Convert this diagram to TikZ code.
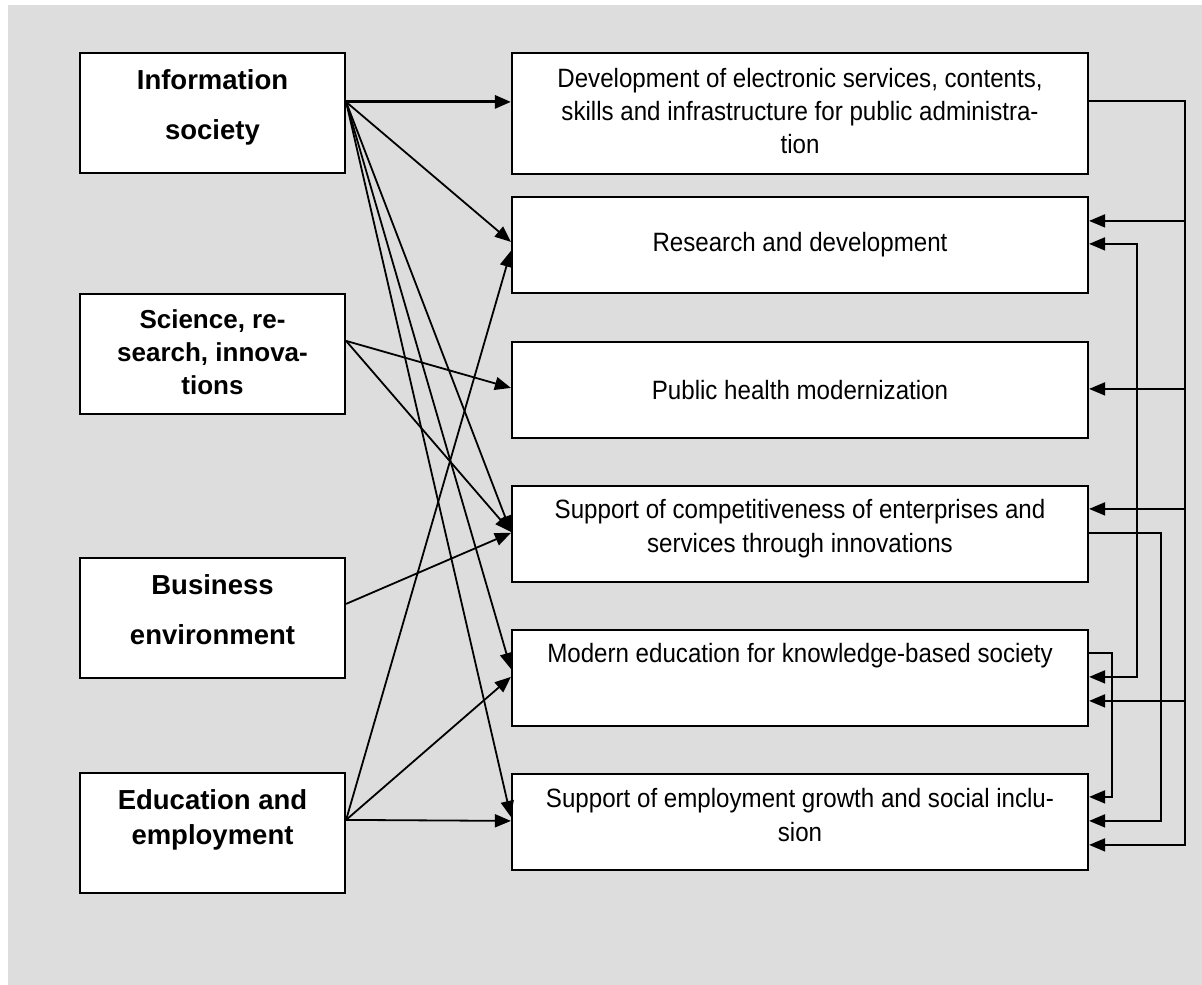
\documentclass[tikz,border=0pt]{standalone}
\usepackage{fontspec}
\setmainfont{Liberation Sans}
\newfontfamily\narrowfont[FakeStretch=0.91]{Liberation Sans}
\usetikzlibrary{arrows.meta}
\definecolor{bggray}{RGB}{221,221,221}
\tikzset{
  lbox/.style={draw=black, line width=2.2pt, fill=white, minimum width=265pt, minimum height=120pt, inner sep=0pt},
  rbox/.style={draw=black, line width=2.2pt, fill=white, minimum width=576pt, minimum height=96pt, inner sep=0pt},
  ltext/.style={align=center, inner sep=0pt, font=\bfseries\fontsize{27.5}{50}\selectfont},
  rtext/.style={align=center, inner sep=0pt, font=\narrowfont\fontsize{26.5}{33}\selectfont},
  conn/.style={line width=1.8pt, -{Triangle[length=16pt,width=13pt]}},
  both/.style={line width=1.8pt, {Triangle[length=16pt,width=13pt]}-{Triangle[length=16pt,width=13pt]}}
}
\begin{document}
\begin{tikzpicture}[x=1pt,y=-1pt]
\useasboundingbox (0,0) rectangle (1202,985);
\fill[bggray] (8,5) rectangle (1202,985);

% left boxes
\node[lbox] (is) at (212.5,113) {};
\node[ltext] (ist) at (212.5,107) {Information\\society};
\node[lbox] (sr) at (212.5,354) {};
\node[ltext, font=\bfseries\fontsize{26}{33}\selectfont] (srt) at (212.5,352) {Science, re-\\search, innova-\\tions};
\node[lbox] (be) at (212.5,618) {};
\node[ltext] (bet) at (212.5,610) {Business\\environment};
\node[lbox] (ee) at (212.5,833) {};
\node[ltext, font=\bfseries\fontsize{27.5}{35}\selectfont] (eet) at (212.5,820) {Education and\\employment};

% right boxes
\node[rbox, minimum height=121pt] (b1) at (800,113.5) {};
\node[rtext] (b1t) at (800,111) {Development of electronic services, contents,\\skills and infrastructure for public administra-\\tion};
\node[rbox] (b2) at (800,245) {};
\node[rtext] (b2t) at (800,245) {Research and development};
\node[rbox] (b3) at (800,390) {};
\node[rtext] (b3t) at (800,390) {Public health modernization};
\node[rbox] (b4) at (800,534) {};
\node[rtext, font=\narrowfont\fontsize{26.5}{34}\selectfont] (b4t) at (800,529) {Support of competitiveness of enterprises and\\services through innovations};
\node[rbox] (b5) at (800,678) {};
\node[rtext] (b5t) at (800,656) {Modern education for knowledge-based society};
\node[rbox] (b6) at (800,822) {};
\node[rtext, font=\narrowfont\fontsize{26.5}{34}\selectfont] (b6t) at (800,815) {Support of employment growth and social inclu-\\sion};

% left-side connectors
\draw[conn, line width=3pt] ([yshift=-50pt]is.north east) -- ([yshift=-50pt]b1.north west);
\draw[conn] ([yshift=-50pt]is.north east) -- ([yshift=-46pt]b2.north west);
\draw[conn] ([yshift=-50pt]is.north east) -- ([yshift=-47pt]b4.north west);
\draw[conn] ([yshift=-50pt]is.north east) -- ([yshift=-40pt]b5.north west);
\draw[conn] ([yshift=-50pt]is.north east) -- ([yshift=-44pt]b6.north west);
\draw[conn] ([yshift=-48pt]sr.north east) -- ([yshift=-47pt]b3.north west);
\draw[conn] ([yshift=-48pt]sr.north east) -- ([yshift=-47pt]b4.north west);
\draw[conn] ([yshift=-47pt]be.north east) -- ([yshift=-48pt]b4.north west);
\draw[conn] ([yshift=-48pt]ee.north east) -- ([yshift=-55pt]b2.north west);
\draw[conn] ([yshift=-48pt]ee.north east) -- ([yshift=-48pt]b5.north west);
\draw[conn] ([yshift=-48pt]ee.north east) -- ([yshift=-48pt]b6.north west);

% right-side ports
\coordinate (b1o) at ([yshift=-49pt]b1.north east);
\coordinate (b2a) at ([yshift=-25pt]b2.north east);
\coordinate (b2b) at ([yshift=-48pt]b2.north east);
\coordinate (b3a) at ([yshift=-48pt]b3.north east);
\coordinate (b4a) at ([yshift=-24pt]b4.north east);
\coordinate (b4o) at ([yshift=-48pt]b4.north east);
\coordinate (b5o) at ([yshift=-24pt]b5.north east);
\coordinate (b5b) at ([yshift=-48pt]b5.north east);
\coordinate (b5a) at ([yshift=-72pt]b5.north east);
\coordinate (b6c) at ([yshift=-24pt]b6.north east);
\coordinate (b6b) at ([yshift=-48pt]b6.north east);
\coordinate (b6a) at ([yshift=-72pt]b6.north east);
\coordinate (busA) at (1185,0);
\coordinate (busB) at (1137,0);
\coordinate (busC) at (1161,0);
\coordinate (busD) at (1112,0);

% outer bus from box 1
\draw[conn] (b1o) -| (busA |- b6a) -- (b6a);
\draw[conn] (busA |- b2a) -- (b2a);
\draw[conn] (busA |- b3a) -- (b3a);
\draw[conn] (busA |- b4a) -- (b4a);
\draw[conn] (busA |- b5a) -- (b5a);
% box 2 <-> box 5
\draw[both] (b2b) -- (busB |- b2b) -- (busB |- b5b) -- (b5b);
% box 4 -> box 6
\draw[conn] (b4o) -- (busC |- b4o) -- (busC |- b6b) -- (b6b);
% box 5 -> box 6
\draw[conn] (b5o) -- (busD |- b5o) -- (busD |- b6c) -- (b6c);
\end{tikzpicture}
\end{document}
